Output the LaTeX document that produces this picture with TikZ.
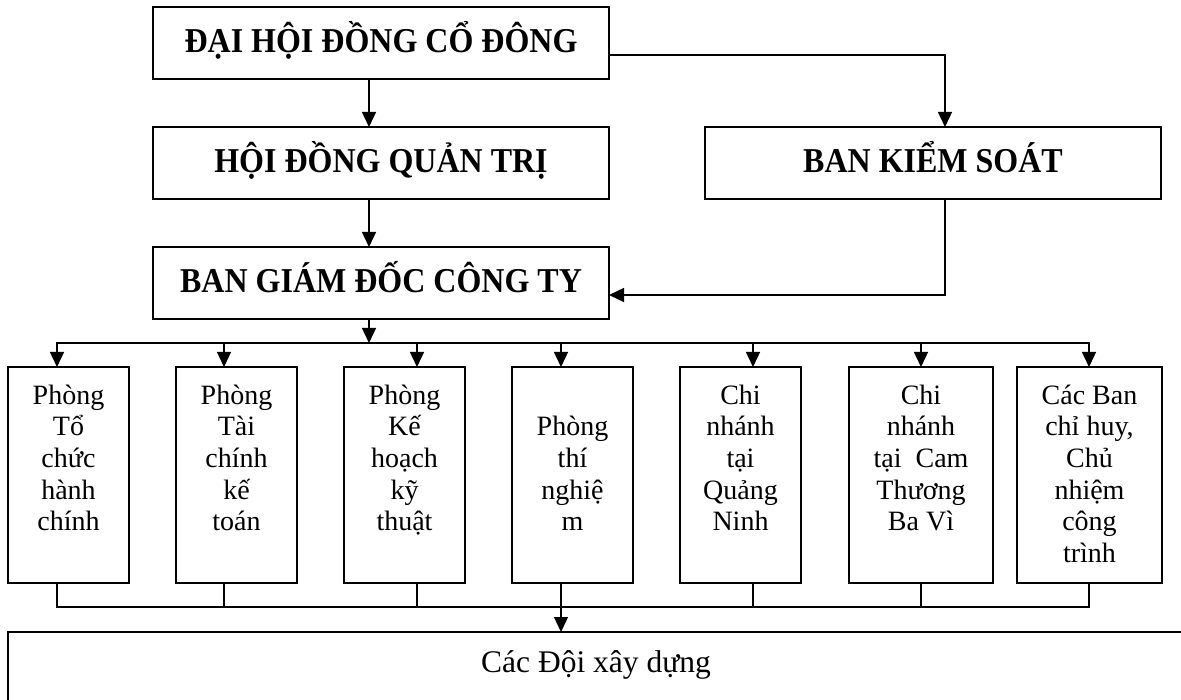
\documentclass[tikz,border=0pt]{standalone}
\usepackage{fontspec}
\usepackage{graphicx}
\setmainfont{Liberation Serif}
\usetikzlibrary{arrows.meta}
\newcommand\myheadfont{\fontsize{32}{38}\selectfont\bfseries}
\newcommand\mysubfont{\fontsize{28}{31.7}\selectfont}
\newcommand\myteamfont{\fontsize{31.5}{36}\selectfont}
\newcommand\tallhead[1]{\scalebox{1}[1.09]{#1}}
\begin{document}
\begin{tikzpicture}[x=1pt,y=-1pt,
  box/.style={draw, line width=1.3pt, inner sep=0pt, outer sep=0pt, anchor=north west},
  arr/.style={-{Triangle[length=15pt,width=14pt]}, line width=1.3pt},
  ln/.style={line width=1.3pt},
  head/.style={inner sep=0pt, anchor=base, font=\myheadfont},
  sub/.style={inner sep=0pt, anchor=north, align=center, font=\mysubfont}]
\clip (0,0) rectangle (1181,700);
\fill[white] (0,0) rectangle (1181,700);
% top boxes
\node[box, minimum width=456pt, minimum height=72pt] (dh) at (153,7) {};
\node[box, minimum width=456pt, minimum height=72pt] (hd) at (153,127) {};
\node[box, minimum width=456pt, minimum height=72pt] (bks) at (705,127) {};
\node[box, minimum width=456pt, minimum height=72pt] (bgd) at (153,247) {};
\node[head] (dht) at (381,53) {\tallhead{ĐẠI HỘI ĐỒNG CỔ ĐÔNG}};
\node[head] (hdt) at (381,173) {\tallhead{HỘI ĐỒNG QUẢN TRỊ}};
\node[head] (bkst) at (933,173) {\tallhead{BAN KIỂM SOÁT}};
\node[head] (bgdt) at (381,293) {\tallhead{BAN GIÁM ĐỐC CÔNG TY}};
% department boxes
\node[box, minimum width=121pt, minimum height=216pt] (b1) at (8,367) {};
\node[box, minimum width=121pt, minimum height=216pt] (b2) at (176,367) {};
\node[box, minimum width=121pt, minimum height=216pt] (b3) at (344,367) {};
\node[box, minimum width=121pt, minimum height=216pt] (b4) at (512,367) {};
\node[box, minimum width=121pt, minimum height=216pt] (b5) at (680,367) {};
\node[box, minimum width=144pt, minimum height=216pt] (b6) at (849,367) {};
\node[box, minimum width=145pt, minimum height=216pt] (b7) at (1017,367) {};
\node[sub] (b1t) at (68.5,381.8) {\strut Phòng\\Tổ\\chức\\hành\\chính};
\node[sub] (b2t) at (236.5,381.8) {\strut Phòng\\Tài\\chính\\kế\\toán};
\node[sub] (b3t) at (404.5,381.8) {\strut Phòng\\Kế\\hoạch\\kỹ\\thuật};
\node[sub] (b4t) at (572.5,413.5) {\strut Phòng\\thí\\nghiệ\\m};
\node[sub] (b5t) at (740.5,381.8) {\strut Chi\\nhánh\\tại\\Quảng\\Ninh};
\node[sub] (b6t) at (921,381.8) {\strut Chi\\nhánh\\tại\ \ Cam\\Thương\\Ba Vì};
\node[sub] (b7t) at (1089.5,381.8) {\strut Các Ban\\chỉ huy,\\Chủ\\nhiệm\\công\\trình};
% bottom box
\node[box, minimum width=1176pt, minimum height=100pt] (doi) at (8,632) {};
\node[inner sep=0pt, anchor=base, font=\myteamfont] (doit) at (596,672) {Các Đội xây dựng};
% connectors
\coordinate (cx) at (369,343);
\draw[arr] (dh.south -| cx) -- (hd.north -| cx);
\draw[arr] (hd.south -| cx) -- (bgd.north -| cx);
\draw[arr] (bgd.south -| cx) -- (cx);
\coordinate (r1) at (945,55);
\draw[arr] (dh.east |- r1) -- (r1) -- (bks.north -| r1);
\coordinate (r2) at (945,295);
\draw[arr] (bks.south -| r2) -- (r2) -- (bgd.east |- r2);
\coordinate (t1) at (57,343);
\coordinate (t2) at (224,343);
\coordinate (t3) at (417,343);
\coordinate (t4) at (561,343);
\coordinate (t5) at (753,343);
\coordinate (t6) at (921,343);
\coordinate (t7) at (1089,343);
\coordinate (bus2) at (0,607);
\draw[ln, line cap=rect] (t1) -- (t7);
\draw[ln, line cap=rect] (t1 |- bus2) -- (t7 |- bus2);
\foreach \i in {1,...,7}{
  \draw[arr] (t\i) -- (t\i |- b\i.north);
  \draw[ln] (t\i |- b\i.south) -- (t\i |- bus2);
}
\draw[arr] (t4 |- bus2) -- (t4 |- doi.north);
\end{tikzpicture}
\end{document}
